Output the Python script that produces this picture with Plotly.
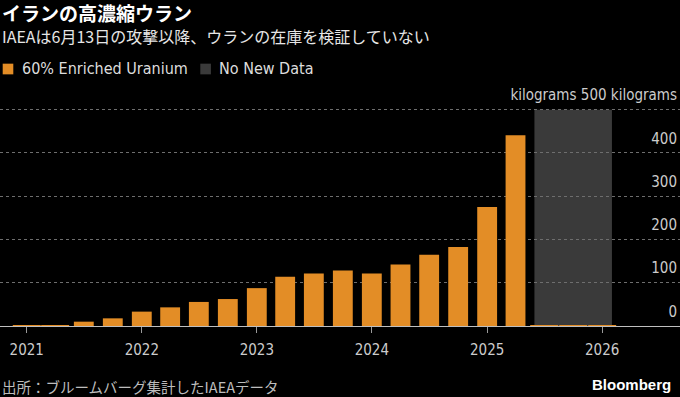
import plotly.graph_objects as go

# ---- data ----
quarters = ["2021-01-01", "2021-04-01", "2021-07-01", "2021-10-01",
            "2022-01-01", "2022-04-01", "2022-07-01", "2022-10-01",
            "2023-01-01", "2023-04-01", "2023-07-01", "2023-10-01",
            "2024-01-01", "2024-04-01", "2024-07-01", "2024-10-01",
            "2025-01-01", "2025-04-01", "2025-07-01", "2025-10-01",
            "2026-01-01"]
uranium_kg = [0, 0, 10.0, 17.7,
              33.2, 43.1, 55.6, 62.3,
              87.5, 114.1, 121.6, 128.3,
              121.5, 142.1, 164.7, 182.3,
              274.8, 440.9, 0, 0,
              0]
y_tickvals = [0, 100, 200, 300, 400, 500]
y_ticktext = ["0", "100", "200", "300", "400", "kilograms 500 kilograms"]
no_data_start = "2025-05-31"
no_data_end = "2026-02-01"
no_data_top = 500

title = "イランの高濃縮ウラン"
subtitle = "IAEAは6月13日の攻撃以降、ウランの在庫を検証していない"
source = "出所：ブルームバーグ集計したIAEAデータ"
legend_names = ["60% Enriched Uranium", "No New Data"]

ORANGE = "#E38D26"
GRAY = "#3a3a3a"
LATIN = "DejaVu Sans Condensed, DejaVu Sans, sans-serif"
CJK = "Noto Sans CJK JP, sans-serif"

W, HGT = 680, 397
Y_MAX = 550
PX_TOP500, PX_ZERO = 109.33, 326.0
px_per_unit = (PX_ZERO - PX_TOP500) / 500
PLOT_TOP = PX_ZERO - Y_MAX * px_per_unit


def py(pix):
    return (PX_ZERO - pix) / (PX_ZERO - PLOT_TOP)


def px(pix):
    return pix / W


fig = go.Figure()

fig.add_trace(go.Bar(
    x=quarters, y=uranium_kg, name=legend_names[0],
    marker=dict(color=ORANGE, line=dict(width=0)),
    hoverinfo="x+y", showlegend=False,
))
# zero-valued periods are shown as a thin stroke on the baseline
zero_x = [q for q, v in zip(quarters, uranium_kg) if v == 0]
fig.add_trace(go.Scatter(
    x=zero_x, y=[0] * len(zero_x), mode="markers",
    marker=dict(symbol="line-ew", size=20, line=dict(color=ORANGE, width=2)),
    showlegend=False, cliponaxis=False, hoverinfo="skip",
))

# shaded "no new data" band
fig.add_shape(type="rect", xref="x", yref="y",
              x0=no_data_start, x1=no_data_end, y0=0, y1=no_data_top,
              fillcolor=GRAY, line=dict(width=0), layer="below")

# legend (swatches + labels)
for (x0, x1), col, name, tx in [((2.7, 13.3), ORANGE, legend_names[0], 20),
                                ((200.3, 210.9), GRAY, legend_names[1], 217)]:
    fig.add_shape(type="rect", xref="paper", yref="paper",
                  x0=px(x0), x1=px(x1), y0=py(74), y1=py(63.3),
                  fillcolor=col, line=dict(width=0))
    fig.add_annotation(text=name, x=px(tx), xref="paper", y=py(68.5), yref="paper",
                       xanchor="left", yanchor="middle", showarrow=False,
                       font=dict(family=LATIN, size=16, color="#dddddd"))

fig.add_annotation(text=f"<b>{title}</b>", x=0, xref="paper", y=py(12.5), yref="paper",
                   xanchor="left", yanchor="middle", showarrow=False,
                   font=dict(family=CJK, size=19, color="#ffffff"))
fig.add_annotation(text=subtitle, x=0, xref="paper", y=py(35.5), yref="paper",
                   xanchor="left", yanchor="middle", showarrow=False, height=19,
                   font=dict(family=CJK, size=16, color="#e6e6e6"))
fig.add_annotation(text=source, x=0, xref="paper", y=py(387), yref="paper",
                   xanchor="left", yanchor="middle", showarrow=False,
                   font=dict(family=CJK, size=14.5, color="#bdbdbd"))
fig.add_annotation(text="<b>Bloomberg</b>", x=px(673), xref="paper", y=py(385), yref="paper",
                   xanchor="right", yanchor="middle", showarrow=False,
                   font=dict(family="Liberation Sans, Arial, sans-serif", size=15, color="#ffffff"))

fig.update_layout(
    width=W, height=HGT,
    margin=dict(l=0, r=0, t=PLOT_TOP, b=HGT - PX_ZERO, pad=0, autoexpand=False),
    paper_bgcolor="#000000", plot_bgcolor="#000000",
    barmode="overlay", bargap=0.3, showlegend=False,
    font=dict(family=LATIN, color="#cccccc", size=15),
    xaxis=dict(type="date", range=["2020-10-08", "2026-09-05"],
               tick0="2021-01-01", dtick="M12", tickformat="%Y",
               showgrid=False, zeroline=False,
               showline=True, linecolor="#bfbfbf", linewidth=1,
               ticks="outside", ticklen=6, tickcolor="#9a9a9a", tickwidth=1,
               ticklabelstandoff=4, ticklabeloverflow="allow",
               tickfont=dict(family=LATIN, size=15, color="#cccccc")),
    yaxis=dict(side="right", range=[0, Y_MAX], tickvals=y_tickvals, ticktext=y_ticktext,
               ticklabelposition="inside top", ticks="", showline=False,
               ticklabelshift=-4, ticklabelstandoff=0, ticklabeloverflow="allow",
               showgrid=True, gridcolor="#6e6e6e", griddash="dot", gridwidth=1,
               zeroline=False,
               tickfont=dict(family=LATIN, size=15, color="#cccccc")),
)

fig.write_html("out.html", config={"displayModeBar": False},
               post_script="document.body.style.margin='0';document.body.style.overflow='hidden';")
